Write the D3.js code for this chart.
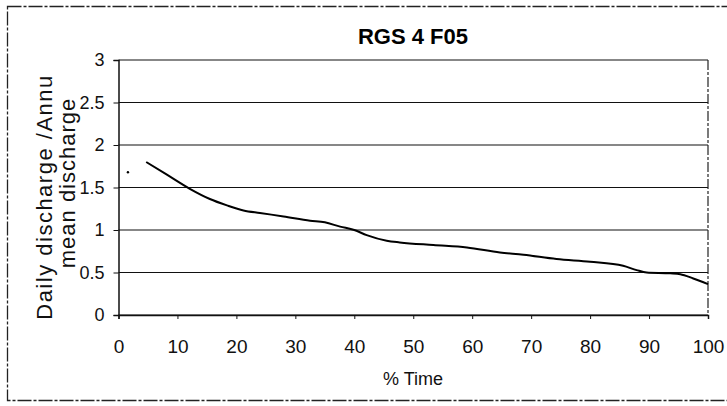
<!DOCTYPE html>
<html><head><meta charset="utf-8">
<script src="https://cdn.jsdelivr.net/npm/d3@7"></script>
<style>
body{margin:0;background:#fff;}
svg{display:block;}
</style></head>
<body>
<svg id="chart" width="727" height="406"></svg>
<script>
const title = "RGS 4 F05";
const xLabel = "% Time";
const yLabelLines = ["Daily discharge /Annu", "mean discharge"];
const pctTime = [4.7, 8, 12.1, 15.5, 18.4, 21.2, 24, 28, 32.5, 35, 37.6, 40, 42.1, 45.5, 47.7, 53.4, 59.1, 64.7, 68.7, 74.3, 80, 85.6, 87.9, 89.6, 93.6, 95.3, 97.5, 100];
const ratio   = [1.80, 1.66, 1.485, 1.365, 1.29, 1.23, 1.20, 1.16, 1.11, 1.09, 1.04, 1.0, 0.94, 0.874, 0.854, 0.823, 0.795, 0.736, 0.709, 0.658, 0.626, 0.579, 0.528, 0.50, 0.49, 0.48, 0.43, 0.363];
const strayX = [1.6];
const strayY = [1.68];
const xTicks = [0, 10, 20, 30, 40, 50, 60, 70, 80, 90, 100];
const yTicks = [0, 0.5, 1, 1.5, 2, 2.5, 3];

const svg = d3.select("#chart");
const L = 118.5, R = 708, T = 60, B = 315;
const x = d3.scaleLinear().domain([0, 100]).range([L, R]);
const y = d3.scaleLinear().domain([0, 3]).range([B, T]);
const font = "'Liberation Sans', Arial, sans-serif";

// outer dashed frame
svg.append("rect").attr("x", 7.5).attr("y", 6.5).attr("width", 760).attr("height", 394)
  .attr("fill", "none").attr("stroke", "#222").attr("stroke-width", 1.3)
  .attr("stroke-dasharray", "14 2 3 2");

// gridlines
svg.append("g").selectAll("line").data(yTicks).join("line")
  .attr("x1", L).attr("x2", R).attr("y1", d => y(d)).attr("y2", d => y(d))
  .attr("stroke", "#111").attr("stroke-width", 1.2);

// plot frame right (dashed)
svg.append("line").attr("x1", R).attr("x2", R).attr("y1", T).attr("y2", B)
  .attr("stroke", "#222").attr("stroke-width", 1.2).attr("stroke-dasharray", "10 2 3 2");

// y axis
const yAxis = d3.axisLeft(y).tickValues(yTicks).tickSize(5).tickFormat(d3.format("~g"));
const gy = svg.append("g").attr("transform", `translate(${L},0)`).call(yAxis);
gy.select(".domain").attr("stroke", "#111").attr("stroke-width", 1.5);
gy.selectAll(".tick line").attr("stroke", "#111");
gy.selectAll("text").attr("font-family", font)
  .attr("font-size", 18).attr("fill", "#111").attr("x", -14);

// x axis
const xAxis = d3.axisBottom(x).tickValues(xTicks).tickSize(4).tickFormat(d3.format("d"));
const gx = svg.append("g").attr("transform", `translate(0,${B})`).call(xAxis);
gx.select(".domain").attr("stroke", "#111").attr("stroke-width", 1.5);
gx.selectAll(".tick line").attr("stroke", "#111");
gx.selectAll("text").attr("font-family", font)
  .attr("font-size", 19).attr("fill", "#111").attr("y", 25);

// line
const pts = pctTime.map((t, i) => [t, ratio[i]]);
svg.append("path").datum(pts)
  .attr("d", d3.line().x(d => x(d[0])).y(d => y(d[1])).curve(d3.curveMonotoneX))
  .attr("fill", "none").attr("stroke", "#000").attr("stroke-width", 2);

// stray point
svg.append("g").selectAll("circle").data(strayX.map((v, i) => [v, strayY[i]])).join("circle")
  .attr("cx", d => x(d[0])).attr("cy", d => y(d[1])).attr("r", 1.2).attr("fill", "#000");

// title
svg.append("text").attr("x", 413).attr("y", 44).attr("text-anchor", "middle")
  .attr("font-family", font)
  .attr("font-weight", "bold").attr("font-size", 22).attr("fill", "#000").text(title);

// x label
svg.append("text").attr("x", 413).attr("y", 385).attr("text-anchor", "middle")
  .attr("font-family", font)
  .attr("font-size", 18).attr("fill", "#111").text(xLabel);

// y label (two lines)
const yPos = [[52, 197, 1.5], [75, 183, 1]];
yLabelLines.forEach((s, i) => {
  svg.append("text").attr("transform", `translate(${yPos[i][0]},${yPos[i][1]}) rotate(-90)`)
    .attr("text-anchor", "middle").attr("font-family", font)
    .attr("font-size", 22).attr("letter-spacing", yPos[i][2]).attr("fill", "#111").text(s);
});
</script>
</body></html>
